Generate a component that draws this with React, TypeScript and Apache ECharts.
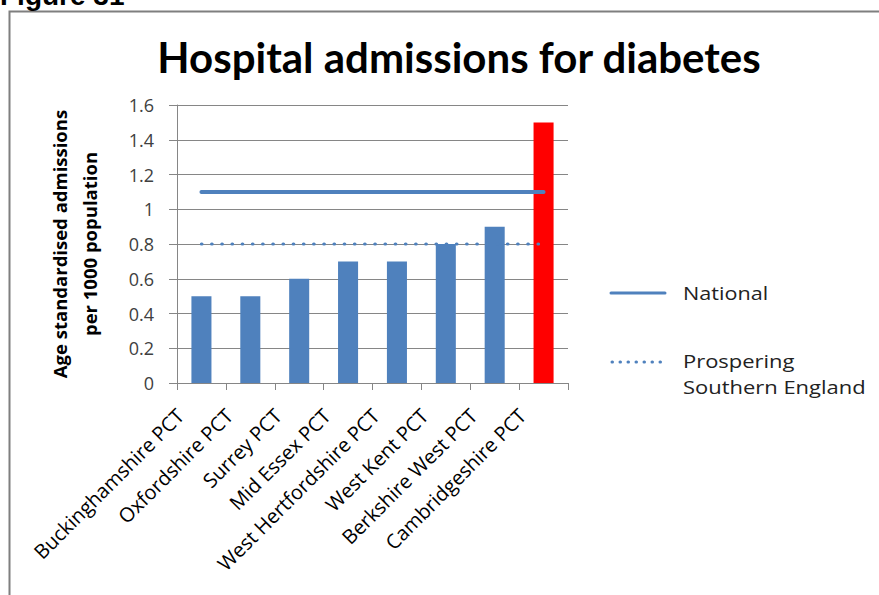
import React, { useEffect, useRef } from "react";
import * as echarts from "echarts";

const categories = [
  "Buckinghamshire PCT",
  "Oxfordshire PCT",
  "Surrey PCT",
  "Mid Essex PCT",
  "West Hertfordshire PCT",
  "West Kent PCT",
  "Berkshire West PCT",
  "Cambridgeshire PCT",
];
const admissions = [0.5, 0.5, 0.6, 0.7, 0.7, 0.8, 0.9, 1.5];
const highlighted = [false, false, false, false, false, false, false, true];
const nationalRate = 1.1;
const prosperingRate = 0.8;
const nationalValues = categories.map(() => nationalRate);
const prosperingValues = categories.map(() => prosperingRate);

const FONT = "'Open Sans', Lato, sans-serif";
const TITLE_FONT = "Lato, 'Open Sans', sans-serif";
const BLUE = "#4F81BD";
const RED = "#FF0000";
const GRID = "#868686";

export default function App() {
  const ref = useRef<HTMLDivElement>(null);
  useEffect(() => {
    document.body.style.margin = "0";
    const chart = echarts.init(ref.current!, null, { renderer: "svg" });
    chart.setOption({
      animation: false,
      backgroundColor: "#ffffff",
      textStyle: { fontFamily: FONT },
      title: {
        text: "Hospital admissions for diabetes",
        left: 454,
        top: 31,
        textAlign: "center",
        textStyle: { fontFamily: TITLE_FONT, fontSize: 42, fontWeight: "bold", color: "#000" },
      },
      grid: { left: 177, top: 105, width: 391, height: 278, containLabel: false },
      xAxis: {
        type: "category",
        data: categories,
        boundaryGap: true,
        axisLine: { show: true, lineStyle: { color: GRID, width: 1 } },
        axisTick: { show: true, length: 7, interval: 0, lineStyle: { color: GRID } },
        axisLabel: {
          interval: 0,
          rotate: 45,
          fontSize: 20,
          color: "#000",
          fontFamily: FONT,
          margin: 8,
          padding: [0, 30, 0, 0],
        },
        splitLine: { show: false },
      },
      yAxis: {
        type: "value",
        min: 0,
        max: 1.6,
        interval: 0.2,
        name: "Age standardised admissions\nper 1000 population",
        nameLocation: "middle",
        nameRotate: 90,
        nameGap: 73,
        nameTextStyle: {
          fontFamily: FONT,
          fontSize: 18.5,
          fontWeight: "bold",
          color: "#000",
          lineHeight: 30,
        },
        axisLine: { show: true, lineStyle: { color: GRID, width: 1 } },
        axisTick: { show: true, length: 8, lineStyle: { color: GRID } },
        axisLabel: {
          fontSize: 18,
          color: "#404040",
          fontFamily: FONT,
          margin: 23,
          formatter: (v: number) => String(Math.round(v * 10) / 10),
        },
        splitLine: { show: true, lineStyle: { color: GRID, width: 1 } },
      },
      series: [
        {
          name: "Admissions",
          type: "bar",
          barWidth: "41%",
          z: 2,
          data: admissions.map((v, i) => ({
            value: v,
            itemStyle: { color: highlighted[i] ? RED : BLUE },
          })),
        },
        {
          name: "National",
          type: "line",
          data: nationalValues,
          symbol: "none",
          z: 5,
          lineStyle: { color: BLUE, width: 4, cap: "round" },
        },
        {
          name: "Prospering Southern England",
          type: "line",
          data: prosperingValues,
          symbol: "none",
          z: 5,
          lineStyle: { color: BLUE, width: 3.2, type: [0.5, 9.7], cap: "round" },
        },
      ],
      graphic: [
        {
          type: "rect",
          shape: { x: 9.5, y: 11.5, width: 1000, height: 1000 },
          style: { fill: "none", stroke: "#7f7f7f", lineWidth: 2 },
          silent: true,
        },
        {
          type: "text",
          x: 0,
          y: 9,
          style: {
            text: "Figure 31",
            font: "bold 28px 'Liberation Sans', Arial, sans-serif",
            fill: "#000",
            verticalAlign: "bottom",
          },
        },
        {
          type: "line",
          shape: { x1: 611, y1: 293, x2: 665, y2: 293 },
          style: { stroke: BLUE, lineWidth: 3, lineCap: "round" },
        },
        {
          type: "text",
          x: 683,
          y: 293,
          scaleX: 1.2,
          style: {
            text: "National",
            font: `18px ${FONT}`,
            fill: "#222",
            verticalAlign: "middle",
          },
        },
        {
          type: "line",
          shape: { x1: 612, y1: 362, x2: 665, y2: 362 },
          style: { stroke: BLUE, lineWidth: 3, lineCap: "round", lineDash: [0.5, 7.5] },
        },
        {
          type: "text",
          x: 683,
          y: 348,
          scaleX: 1.22,
          style: {
            text: "Prospering\nSouthern England",
            font: `18px ${FONT}`,
            fill: "#222",
            lineHeight: 26,
            verticalAlign: "top",
          },
        },
      ],
    });
    return () => chart.dispose();
  }, []);
  return (
    <div
      ref={ref}
      style={{ position: "fixed", left: 0, top: 0, width: 879, height: 595 }}
    />
  );
}
